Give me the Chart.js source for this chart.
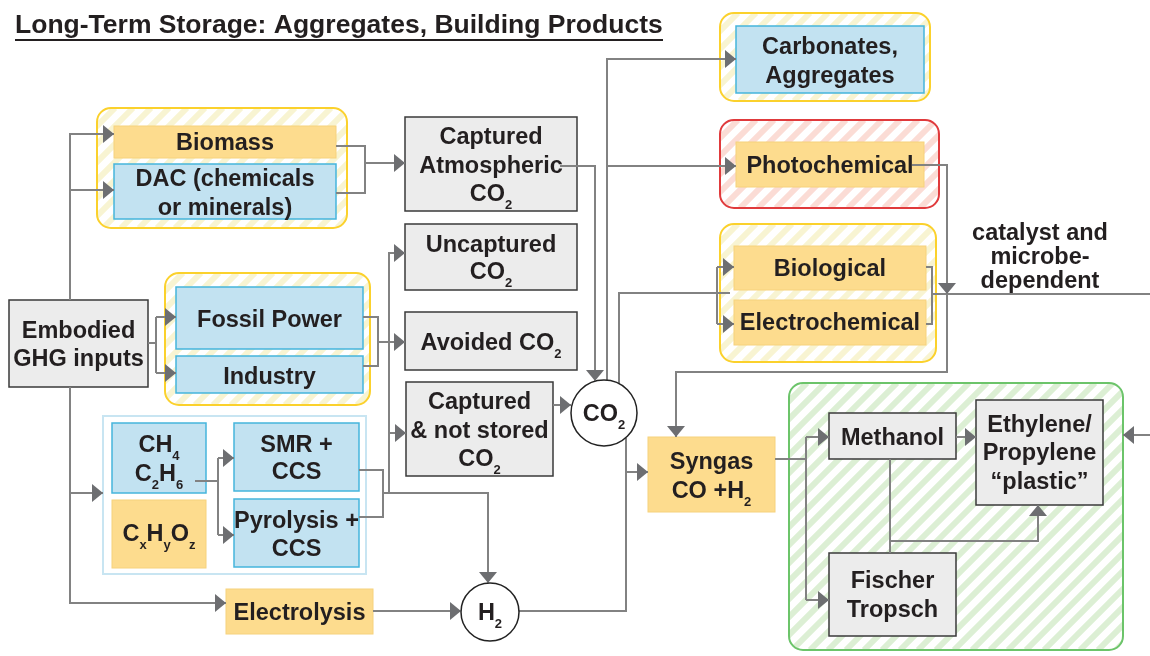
<!DOCTYPE html>
<html>
<head>
<meta charset="utf-8">
<script src="https://cdn.jsdelivr.net/npm/chart.js@4.4.0/dist/chart.umd.min.js"></script>
<style>
  body { margin: 0; background: #fff; }
  #wrap { width: 1150px; height: 656px; }
</style>
</head>
<body>
<div id="wrap"><canvas id="flow" width="1150" height="656"></canvas></div>
<script>
const titleText = "Long-Term Storage: Aggregates, Building Products";

// labels: "_" makes the next character a subscript, "\n" breaks the line
const nodeLabels = [
  "Biomass", "DAC (chemicals\nor minerals)", "Embodied\nGHG inputs",
  "Fossil Power", "Industry", "CH_4\nC_2H_6", "C_xH_yO_z",
  "SMR +\nCCS", "Pyrolysis +\nCCS", "Electrolysis",
  "Captured\nAtmospheric\nCO_2", "Uncaptured\nCO_2", "Avoided CO_2",
  "Captured\n& not stored\nCO_2", "Carbonates,\nAggregates", "Photochemical",
  "Biological", "Electrochemical", "Syngas\nCO +H_2",
  "Methanol", "Ethylene/\nPropylene\n\u201cplastic\u201d", "Fischer\nTropsch"
];
const nodeKinds = [
  "orange", "blue", "gray", "blue", "blue", "blue", "orange", "blue", "blue", "orange",
  "gray", "gray", "gray", "gray", "blue", "orange", "orange", "orange", "orange",
  "gray", "gray", "gray"
];
// boxes in diagram units [left, top, right, bottom]
const nodeBoxes = [
  [114, 126, 336, 158], [114, 164, 336, 219], [9, 300, 148, 387],
  [176, 287, 363, 349], [176, 356, 363, 393], [112, 423, 206, 493], [112, 500, 206, 568],
  [234, 423, 359, 491], [234, 499, 359, 567], [226, 589, 373, 634],
  [405, 117, 577, 211], [405, 224, 577, 290], [405, 312, 577, 370],
  [406, 382, 553, 476], [736, 26, 924, 93], [736, 142, 924, 187],
  [734, 246, 926, 290], [734, 300, 926, 345], [648, 437, 775, 512],
  [829, 413, 956, 459], [976, 400, 1103, 505], [829, 553, 956, 636]
];
// text line centres for each node
const nodeLineY = [
  [142], [178, 207], [330, 358], [319], [376], [444, 473], [533],
  [444, 471], [520, 548], [612], [136, 165, 193], [244, 271], [342],
  [401, 430, 458], [46, 75], [165], [268], [322], [461, 490],
  [437], [424, 452, 481], [580, 609]
];

const circleLabels = ["CO_2", "H_2"];
const circleSpots = [[604, 413, 33], [490, 612, 29]];

const groupKinds = ["yellow", "yellow", "blueLine", "yellow", "red", "yellow", "green"];
const groupBoxes = [
  [97, 108, 347, 228], [165, 273, 370, 405], [103, 416, 366, 574],
  [720, 13, 930, 101], [720, 120, 939, 208], [720, 224, 936, 362], [789, 383, 1123, 650]
];

const noteLines = ["catalyst and", "microbe-", "dependent"];
const noteSpot = [1040, 232, 24];

// connector polylines, and whether each ends in an arrowhead
const linkPaths = [
  [[70, 300], [70, 134], [114, 134]],
  [[70, 190], [114, 190]],
  [[70, 387], [70, 603], [226, 603]],
  [[70, 493], [103, 493]],
  [[148, 343], [156, 343]],
  [[156, 317], [156, 373]],
  [[156, 317], [176, 317]],
  [[156, 373], [176, 373]],
  [[336, 146], [365, 146], [365, 193], [336, 193]],
  [[365, 163], [405, 163]],
  [[363, 317], [378, 317], [378, 366], [363, 366]],
  [[378, 342], [405, 342]],
  [[195, 481], [218, 481]],
  [[218, 458], [218, 535]],
  [[218, 458], [234, 458]],
  [[218, 535], [234, 535]],
  [[359, 470], [383, 470], [383, 517], [359, 517]],
  [[383, 493], [488, 493], [488, 583]],
  [[389, 493], [389, 253], [405, 253]],
  [[389, 433], [406, 433]],
  [[560, 166], [595, 166], [595, 381]],
  [[553, 405], [571, 405]],
  [[607, 380], [607, 59], [736, 59]],
  [[607, 166], [736, 166]],
  [[619, 384], [619, 293], [730, 293]],
  [[717, 267], [717, 324]],
  [[717, 267], [734, 267]],
  [[717, 324], [734, 324]],
  [[926, 267], [932, 267], [932, 324], [926, 324]],
  [[932, 294], [1150, 294]],
  [[912, 165], [947, 165], [947, 372], [676, 372], [676, 437]],
  [[947, 280], [947, 294]],
  [[626, 438], [626, 611], [518, 611]],
  [[626, 472], [648, 472]],
  [[373, 611], [461, 611]],
  [[775, 459], [806, 459]],
  [[806, 437], [806, 600]],
  [[806, 437], [829, 437]],
  [[806, 600], [829, 600]],
  [[956, 437], [976, 437]],
  [[890, 459], [890, 553]],
  [[890, 541], [1038, 541], [1038, 505]],
  [[1150, 435], [1123, 435]]
];
const linkArrows = [
  true, true, true, true, false, false, true, true, false, true,
  false, true, false, false, true, true, false, true, true, true,
  true, true, true, true, false, false, true, true, false, false,
  true, true, false, true, true, false, false, true, true, true,
  false, true, true
];

const FONT = "'Liberation Sans', Arial, sans-serif";
const INK = "#231f20";
const LINK = "#828282";
const TEXT_SIZE = 23.5;

const boxStyle = {
  gray: { fill: "#ececec", stroke: "#3a3a3a", w: 1.5 },
  blue: { fill: "#c2e2f1", stroke: "#45b5dc", w: 1.5 },
  orange: { fill: "#fddc8e", stroke: "#f6d27c", w: 1 }
};
const groupStyle = {
  yellow: { stroke: "#fbd12c", stripe: "#f8f4d2" },
  red: { stroke: "#e03a3c", stripe: "#fbdcd5" },
  green: { stroke: "#6cc46a", stripe: "#dcefd4" }
};

function roundRect(ctx, x, y, w, h, r) {
  ctx.beginPath();
  ctx.moveTo(x + r, y);
  ctx.arcTo(x + w, y, x + w, y + h, r);
  ctx.arcTo(x + w, y + h, x, y + h, r);
  ctx.arcTo(x, y + h, x, y, r);
  ctx.arcTo(x, y, x + w, y, r);
  ctx.closePath();
}

// split "CO_2" into runs of normal and subscript text
function runsOf(str) {
  const runs = [];
  for (let i = 0; i < str.length; i++) {
    if (str[i] === "_" && i + 1 < str.length) {
      runs.push({ t: str[i + 1], sub: true });
      i++;
    } else if (runs.length && !runs[runs.length - 1].sub) {
      runs[runs.length - 1].t += str[i];
    } else {
      runs.push({ t: str[i], sub: false });
    }
  }
  return runs;
}

function drawLabel(ctx, str, cx, cy, size) {
  const runs = runsOf(str);
  const big = "bold " + size + "px " + FONT;
  const small = "bold " + Math.round(size * 0.56) + "px " + FONT;
  let total = 0;
  runs.forEach(r => {
    ctx.font = r.sub ? small : big;
    r.w = ctx.measureText(r.t).width;
    total += r.w;
  });
  let x = cx - total / 2;
  const base = cy + size * 0.36;
  ctx.fillStyle = INK;
  ctx.textAlign = "left";
  ctx.textBaseline = "alphabetic";
  runs.forEach(r => {
    ctx.font = r.sub ? small : big;
    ctx.fillText(r.t, x, r.sub ? base + size * 0.32 : base);
    x += r.w;
  });
}

const diagramPlugin = {
  id: "diagram",
  beforeDatasetsDraw(chart) {
    const ctx = chart.ctx;
    const px = v => chart.scales.x.getPixelForValue(v);
    const py = v => chart.scales.y.getPixelForValue(v);
    ctx.save();

    // group frames
    groupBoxes.forEach((b, i) => {
      const x = px(b[0]), y = py(b[1]), w = px(b[2]) - x, h = py(b[3]) - y;
      if (groupKinds[i] === "blueLine") {
        ctx.fillStyle = "#fff";
        ctx.fillRect(x, y, w, h);
        ctx.strokeStyle = "#c8e5f2";
        ctx.lineWidth = 2;
        ctx.strokeRect(x, y, w, h);
        return;
      }
      const st = groupStyle[groupKinds[i]];
      ctx.save();
      roundRect(ctx, x, y, w, h, 14);
      ctx.fillStyle = "#fff";
      ctx.fill();
      ctx.clip();
      ctx.strokeStyle = st.stripe;
      ctx.lineWidth = 6;
      for (let k = -h; k < w + h; k += 18) {
        ctx.beginPath();
        ctx.moveTo(x + k, y + h);
        ctx.lineTo(x + k + h, y);
        ctx.stroke();
      }
      ctx.restore();
      roundRect(ctx, x, y, w, h, 14);
      ctx.strokeStyle = st.stroke;
      ctx.lineWidth = 2;
      ctx.stroke();
    });

    // process boxes
    nodeBoxes.forEach((b, i) => {
      const st = boxStyle[nodeKinds[i]];
      const x = px(b[0]), y = py(b[1]), w = px(b[2]) - x, h = py(b[3]) - y;
      ctx.fillStyle = st.fill;
      ctx.fillRect(x, y, w, h);
      ctx.strokeStyle = st.stroke;
      ctx.lineWidth = st.w;
      ctx.strokeRect(x, y, w, h);
    });
    ctx.restore();
  },
  afterDatasetsDraw(chart) {
    const ctx = chart.ctx;
    const px = v => chart.scales.x.getPixelForValue(v);
    const py = v => chart.scales.y.getPixelForValue(v);
    ctx.save();

    // junction circles
    circleSpots.forEach((c, i) => {
      ctx.beginPath();
      ctx.arc(px(c[0]), py(c[1]), c[2], 0, Math.PI * 2);
      ctx.fillStyle = "#fff";
      ctx.fill();
      ctx.strokeStyle = "#222";
      ctx.lineWidth = 1.5;
      ctx.stroke();
      drawLabel(ctx, circleLabels[i], px(c[0]), py(c[1]), TEXT_SIZE);
    });

    // arrowheads
    ctx.fillStyle = "#6d6e71";
    linkPaths.forEach((p, i) => {
      if (!linkArrows[i]) return;
      const a = p[p.length - 2], b = p[p.length - 1];
      const x1 = px(a[0]), y1 = py(a[1]), x2 = px(b[0]), y2 = py(b[1]);
      const ang = Math.atan2(y2 - y1, x2 - x1);
      const len = 11, half = 9;
      ctx.save();
      ctx.translate(x2, y2);
      ctx.rotate(ang);
      ctx.beginPath();
      ctx.moveTo(0, 0);
      ctx.lineTo(-len, -half);
      ctx.lineTo(-len, half);
      ctx.closePath();
      ctx.fill();
      ctx.restore();
    });

    // box labels
    nodeBoxes.forEach((b, i) => {
      const cx = (px(b[0]) + px(b[2])) / 2;
      nodeLabels[i].split("\n").forEach((line, j) => {
        drawLabel(ctx, line, cx, py(nodeLineY[i][j]), TEXT_SIZE);
      });
    });

    // side note
    noteLines.forEach((line, j) => {
      drawLabel(ctx, line, px(noteSpot[0]), py(noteSpot[1] + j * noteSpot[2]), TEXT_SIZE);
    });

    // title, fitted to the underline
    const tx = px(15), tEnd = px(663);
    ctx.font = "bold 25px " + FONT;
    const size = 25 * (tEnd - tx) / ctx.measureText(titleText).width;
    ctx.font = "bold " + size.toFixed(2) + "px " + FONT;
    ctx.fillStyle = INK;
    ctx.textAlign = "left";
    ctx.textBaseline = "alphabetic";
    ctx.fillText(titleText, tx, py(33));
    ctx.strokeStyle = INK;
    ctx.lineWidth = 2;
    ctx.beginPath();
    ctx.moveTo(tx, py(40));
    ctx.lineTo(tEnd, py(40));
    ctx.stroke();
    ctx.restore();
  }
};

new Chart(document.getElementById("flow").getContext("2d"), {
  type: "scatter",
  data: {
    datasets: linkPaths.map(p => ({
      data: p.map(([x, y]) => ({ x, y })),
      showLine: true,
      borderColor: LINK,
      borderWidth: 2,
      pointRadius: 0,
      tension: 0,
      fill: false,
      clip: false
    }))
  },
  options: {
    responsive: false,
    animation: false,
    events: [],
    layout: { padding: 0 },
    plugins: { legend: { display: false }, tooltip: { enabled: false } },
    scales: {
      x: { type: "linear", min: 0, max: 1150, display: false },
      y: { type: "linear", min: 0, max: 656, reverse: true, display: false }
    }
  },
  plugins: [diagramPlugin]
});
</script>
</body>
</html>
